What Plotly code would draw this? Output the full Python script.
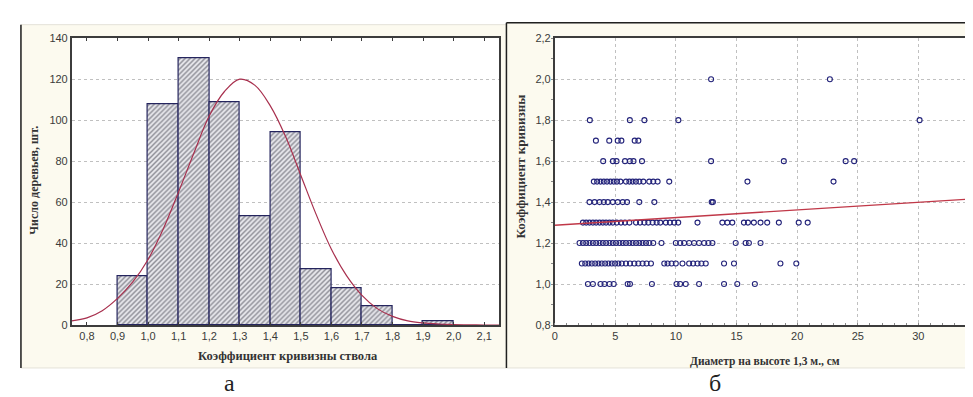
import plotly.graph_objects as go

W, H = 973, 397

# ---------------- data: histogram (panel а) ----------------
bin_left = [0.9, 1.0, 1.1, 1.2, 1.3, 1.4, 1.5, 1.6, 1.7, 1.8, 1.9]
bin_count = [24, 108, 130, 109, 53, 94, 27, 18, 9, 0, 2]
bin_width = 0.1

# expected normal curve
curve_x = [0.75, 0.80, 0.85, 0.90, 0.95, 1.00, 1.05, 1.10, 1.15, 1.20, 1.25, 1.30, 1.35,
           1.40, 1.45, 1.50, 1.55, 1.60, 1.65, 1.70, 1.75, 1.80, 1.85, 1.90, 1.95, 2.00,
           2.05, 2.10, 2.15]
curve_y = [2, 3.5, 7, 13, 21, 32, 47, 65, 84, 102, 114, 120, 117,
           107, 92, 73, 54, 37, 24, 14.5, 8, 4.2, 2, 1, 0.5, 0.2,
           0.1, 0, 0]

hist_xticks = [0.8, 0.9, 1.0, 1.1, 1.2, 1.3, 1.4, 1.5, 1.6, 1.7, 1.8, 1.9, 2.0, 2.1]
hist_yticks = [0, 20, 40, 60, 80, 100, 120, 140]

# ---------------- data: scatter (panel б) ----------------
diam_100 = [2.74, 3.15, 3.78, 4.11, 4.52, 4.87, 6.02, 6.21, 8.02, 10.05, 10.35, 10.81,
            11.91, 13.97, 15.06, 16.51]
diam_110 = [2.24, 2.52, 2.79, 3.06, 3.34, 3.61, 3.88, 4.16, 4.43, 4.71, 4.98, 5.25, 5.53,
            5.88, 6.21, 6.57, 6.9, 7.25, 7.58, 7.94, 9.04, 9.31, 9.64, 9.99, 10.54, 11.09,
            11.42, 11.78, 12.1, 12.46, 13.97, 14.79, 18.62, 19.93]
diam_120 = [2.05, 2.33, 2.6, 2.87, 3.15, 3.42, 3.7, 3.97, 4.24, 4.52, 4.79, 5.06, 5.34,
            5.61, 5.88, 6.16, 6.43, 6.71, 6.98, 7.25, 7.53, 7.8, 8.13, 8.81, 9.99, 10.35,
            10.68, 11.09, 11.5, 11.91, 12.33, 12.68, 13.01, 14.93, 15.75, 16.02, 16.98]
diam_130 = [2.33, 2.6, 2.87, 3.15, 3.42, 3.7, 3.97, 4.24, 4.52, 4.79, 5.12, 5.47, 5.8,
            6.16, 6.71, 7.04, 7.4, 7.72, 8.08, 8.41, 8.71, 9.17, 9.5, 9.86, 10.19, 11.78,
            13.83, 14.24, 14.65, 15.61, 15.94, 16.43, 16.98, 17.53, 18.49, 20.13, 20.87]
diam_140 = [2.87, 3.29, 3.7, 4.05, 4.38, 4.79, 5.2, 5.61, 5.97, 6.98, 8.22, 12.95, 13.05]
diam_150 = [3.23, 3.5, 3.78, 4.05, 4.32, 4.6, 4.87, 5.14, 5.42, 5.88, 6.16, 6.43, 6.7,
            6.98, 7.31, 7.8, 8.13, 8.49, 9.45, 15.9, 23.0]
diam_160 = [4.0, 4.8, 5.1, 5.8, 6.2, 6.5, 7.2, 12.9, 18.9, 24.0, 24.7]
diam_170 = [3.4, 4.5, 5.2, 5.5, 6.6, 6.9]
diam_180 = [2.9, 6.2, 7.4, 10.2, 30.1]
diam_200 = [12.9, 22.7]
coef_levels = [1.0, 1.1, 1.2, 1.3, 1.4, 1.5, 1.6, 1.7, 1.8, 2.0]

reg_x = [0, 35]
reg_y = [1.287, 1.418]

sc_xticks = [0, 5, 10, 15, 20, 25, 30, 35]
sc_yticks = [0.8, 1.0, 1.2, 1.4, 1.6, 1.8, 2.0, 2.2]

# ---------------- build ----------------
def px(x):
    return x / W

def py(y):
    return 1 - y / H

def comma(v, nd=1):
    return f"{v:.{nd}f}".replace(".", ",")

rows = [diam_100, diam_110, diam_120, diam_130, diam_140, diam_150,
        diam_160, diam_170, diam_180, diam_200]
sc_x, sc_y = [], []
for lvl, r in zip(coef_levels, rows):
    sc_x += r
    sc_y += [lvl] * len(r)

bin_center = [b + bin_width / 2 for b in bin_left]

fig = go.Figure()
fig.add_trace(go.Bar(
    x=bin_center, y=bin_count, width=bin_width,
    marker=dict(color="#e6e6ea",
                line=dict(color="#25255e", width=1.2),
                pattern=dict(shape="/", fgcolor="#2e2e3a", bgcolor="#e9e9ee",
                             size=3.5, solidity=0.42)),
    xaxis="x", yaxis="y", showlegend=False))
fig.add_trace(go.Scatter(
    x=curve_x, y=curve_y, mode="lines", line=dict(color="#a8304e", width=1.2, shape="spline"),
    xaxis="x", yaxis="y", showlegend=False, cliponaxis=True))

fig.add_trace(go.Scatter(
    x=sc_x, y=sc_y, mode="markers",
    marker=dict(symbol="circle-open", size=5, color="#23237a", line=dict(width=1.1)),
    xaxis="x2", yaxis="y2", showlegend=False))
fig.add_trace(go.Scatter(
    x=reg_x, y=reg_y, mode="lines", line=dict(color="#c03848", width=1.3),
    xaxis="x2", yaxis="y2", showlegend=False))

tick_font = dict(family="Liberation Sans, Arial, sans-serif", size=11, color="#3a3a3a")
axcol = "#3c3c3c"
gridcol = "#c0c0c0"

ydom = [py(320.7), py(25)]

fig.update_layout(
    width=W, height=H,
    margin=dict(l=0, r=0, t=0, b=0),
    paper_bgcolor="white",
    plot_bgcolor="white",
    bargap=0,
    xaxis=dict(domain=[px(61), px(491)], range=[0.75, 2.15],
               tickvals=hist_xticks, ticktext=[comma(v) for v in hist_xticks],
               ticks="inside", ticklen=3, tickcolor=axcol, showgrid=False,
               showline=True, linecolor=axcol, linewidth=1.5, mirror="ticks",
               tickfont=tick_font, zeroline=False, anchor="y"),
    yaxis=dict(domain=ydom, range=[0, 140],
               tickvals=hist_yticks, ticktext=[str(v) for v in hist_yticks],
               ticks="", showgrid=True, gridcolor=gridcol, griddash="dot", gridwidth=1,
               showline=True, linecolor=axcol, linewidth=1.5, mirror=True,
               tickfont=tick_font, zeroline=False, anchor="x"),
    xaxis2=dict(domain=[px(546.5), 1.0], range=[0, 35],
                tickvals=sc_xticks, ticktext=[str(v) for v in sc_xticks],
                ticks="", showgrid=True, gridcolor=gridcol, griddash="dot", gridwidth=1,
                minor=dict(dtick=1, ticks="inside", ticklen=2, tickcolor="#888", showgrid=False),
                showline=True, linecolor=axcol, linewidth=1.5, mirror=True,
                tickfont=tick_font, zeroline=False, anchor="y2"),
    yaxis2=dict(domain=ydom, range=[0.8, 2.2],
                tickvals=sc_yticks, ticktext=[comma(v) for v in sc_yticks],
                ticks="", showgrid=True, gridcolor=gridcol, griddash="dot", gridwidth=1,
                minor=dict(dtick=0.1, tick0=0.8, ticks="outside", ticklen=2, tickcolor="#888",
                           showgrid=False),
                showline=True, linecolor=axcol, linewidth=1.5, mirror=True,
                tickfont=tick_font, zeroline=False, anchor="x2"),
)

cream = "#fcfaef"
shapes = [
    # panel backgrounds
    dict(type="rect", xref="paper", yref="paper", x0=px(10), x1=px(498), y0=py(365), y1=py(11),
         fillcolor=cream, line=dict(color="#e4e2d8", width=1), layer="below"),
    dict(type="rect", xref="paper", yref="paper", x0=px(498), x1=px(973), y0=py(365), y1=py(9),
         fillcolor=cream, line=dict(color="#e4e2d8", width=1), layer="below"),
    # dark frame edges
    dict(type="line", xref="paper", yref="paper", x0=px(10), x1=px(10), y0=py(365), y1=py(11),
         line=dict(color="#202020", width=1.5), layer="below"),
    dict(type="line", xref="paper", yref="paper", x0=px(498), x1=px(498), y0=py(365), y1=py(9),
         line=dict(color="#202020", width=1.5), layer="below"),
    dict(type="line", xref="paper", yref="paper", x0=px(498), x1=px(973), y0=py(9), y1=py(9),
         line=dict(color="#202020", width=1.5), layer="below"),
    # plot areas
    dict(type="rect", xref="paper", yref="paper", x0=px(61), x1=px(491), y0=py(320.7), y1=py(25),
         fillcolor="white", line=dict(width=0), layer="below"),
    dict(type="rect", xref="paper", yref="paper", x0=px(546.5), x1=px(973), y0=py(320.7), y1=py(25),
         fillcolor="white", line=dict(width=0), layer="below"),
]
fig.update_layout(shapes=shapes)

title_font = dict(family="Liberation Serif, Times New Roman, serif", size=12, color="#333")
ann = [
    dict(text="<b>Коэффициент кривизны ствола</b>", x=px(278), y=py(353),
         font=dict(title_font, size=12.5)),
    dict(text="<b>Число деревьев, шт.</b>", x=px(23), y=py(171), textangle=-90,
         font=dict(title_font, size=12)),
    dict(text="<b>Диаметр на высоте 1,3 м., см</b>", x=px(758), y=py(358),
         font=dict(title_font, size=11.5)),
    dict(text="<b>Коэффициент кривизны</b>", x=px(512), y=py(157), textangle=-90,
         font=dict(title_font, size=13)),
    dict(text="а", x=px(220), y=py(381),
         font=dict(family="Liberation Serif, Times New Roman, serif", size=24, color="#222")),
    dict(text="б", x=px(708), y=py(381),
         font=dict(family="Liberation Serif, Times New Roman, serif", size=24, color="#222")),
]
for a in ann:
    a.update(xref="paper", yref="paper", showarrow=False, xanchor="center", yanchor="middle")
fig.update_layout(annotations=ann)

fig.write_html("out.html")
